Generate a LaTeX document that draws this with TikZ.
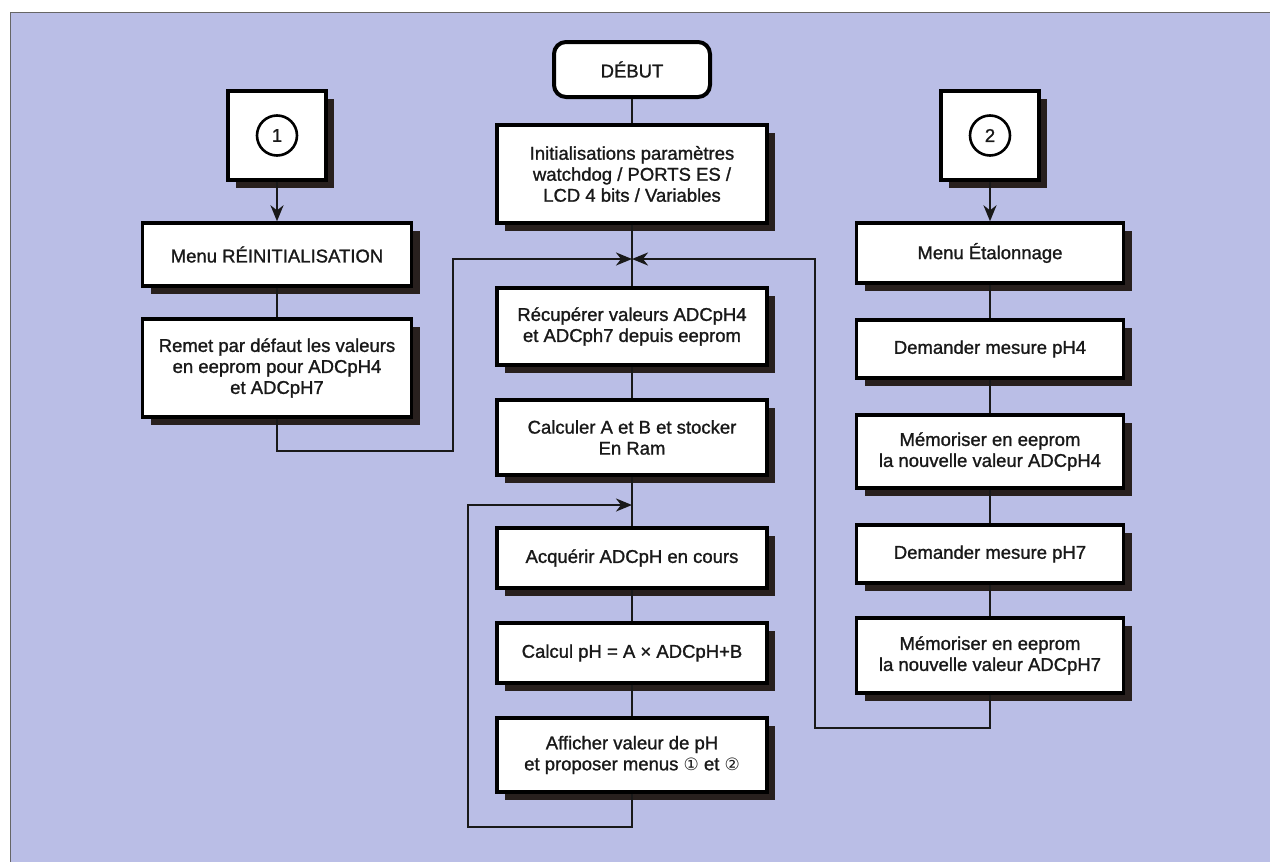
\documentclass[tikz,border=0pt]{standalone}
\usepackage{fontspec}
\setmainfont{Liberation Sans}[FakeBold=1.2]
\newfontfamily\dejavu{DejaVu Sans}
\usetikzlibrary{arrows.meta,shadows}
\definecolor{bgc}{RGB}{186,190,230}
\definecolor{shadowc}{RGB}{40,32,30}
\definecolor{txtc}{RGB}{25,25,25}
\begin{document}
\begin{tikzpicture}[x=1pt,y=-1pt,
  every node/.style={text=txtc},
  txt/.style={font=\fontsize{18.5}{21}\selectfont},
  box/.style={txt, draw=black, line width=3.4pt, fill=white, inner sep=0pt, align=center,
    general shadow={shadow xshift=8pt, shadow yshift=-8pt, fill=shadowc}},
  numc/.style={txt, draw=black, line width=2.6pt, circle, minimum size=40pt, inner sep=0pt},
  wire/.style={draw=black!90, line width=2.3pt},
  arr/.style={wire, -{Stealth[length=16pt,width=13pt,inset=5pt]}}]
\useasboundingbox (0,0) rectangle (1270,862);
\fill[white] (0,0) rectangle (1270,862);
\fill[bgc] (10,12) rectangle (1270,862);
\draw[black!60, line width=1pt] (10,862) -- (10,12) -- (1270,12);

% centre column
\node[txt, draw=black, line width=4pt, fill=white, rounded corners=12pt, minimum width=156pt, minimum height=55pt, inner sep=0pt] (debut) at (632,69.5) {DÉBUT};
\node[box, minimum width=270pt, minimum height=98pt] (init) at (632,174) {Initialisations paramètres\\watchdog / PORTS ES /\\LCD 4 bits / Variables};
\node[box, minimum width=270pt, minimum height=77pt] (recup) at (632,326.5) {Récupérer valeurs ADCpH4\\et ADCph7 depuis eeprom};
\node[box, minimum width=270pt, minimum height=75pt] (calc) at (632,437.5) {Calculer A et B et stocker\\En Ram};
\node[box, minimum width=270pt, minimum height=60pt] (acq) at (632,558) {Acquérir ADCpH en cours};
\node[box, minimum width=270pt, minimum height=60pt] (calcph) at (632,653) {Calcul pH = A × ADCpH+B};
\node[box, minimum width=270pt, minimum height=74pt] (aff) at (632,755) {Afficher valeur de pH\\et proposer menus {\dejavu\fontsize{17}{17}\selectfont ①} et {\dejavu\fontsize{17}{17}\selectfont ②}};

% left column
\node[box, minimum width=98pt, minimum height=89pt] (b1) at (277,135.5) {};
\node[numc] (c1) at (b1.center) {1};
\node[box, minimum width=269pt, minimum height=63pt] (reinit) at (277,254.5) {Menu RÉINITIALISATION};
\node[box, minimum width=269pt, minimum height=98pt] (remet) at (277,368) {Remet par défaut les valeurs\\en eeprom pour ADCpH4\\et ADCpH7};

% right column
\node[box, minimum width=98pt, minimum height=89pt] (b2) at (990,135.5) {};
\node[numc] (c2) at (b2.center) {2};
\node[box, minimum width=267pt, minimum height=60pt] (etal) at (990,253) {Menu Étalonnage};
\node[box, minimum width=267pt, minimum height=58pt] (dem4) at (990,349) {Demander mesure pH4};
\node[box, minimum width=267pt, minimum height=73pt] (mem4) at (990,451.5) {Mémoriser en eeprom\\la nouvelle valeur ADCpH4};
\node[box, minimum width=267pt, minimum height=58pt] (dem7) at (990,554) {Demander mesure pH7};
\node[box, minimum width=267pt, minimum height=75pt] (mem7) at (990,655.5) {Mémoriser en eeprom\\la nouvelle valeur ADCpH7};

% junction points
\coordinate (j1) at (632,259);
\coordinate (j2) at (632,505);

% connectors
\draw[wire] (debut) -- (init);
\draw[wire] (init) -- (recup);
\draw[wire] (recup) -- (calc);
\draw[wire] (calc) -- (acq);
\draw[wire] (acq) -- (calcph);
\draw[wire] (calcph) -- (aff);
\draw[arr] (b1) -- (reinit);
\draw[wire] (reinit) -- (remet);
\draw[arr] (b2) -- (etal);
\draw[wire] (etal) -- (dem4);
\draw[wire] (dem4) -- (mem4);
\draw[wire] (mem4) -- (dem7);
\draw[wire] (dem7) -- (mem7);
\draw[arr] (remet.south) |- (453,451) |- (j1);
\draw[arr] (mem7.south) |- (815,728) |- (j1);
\draw[arr] (aff.south) |- (468,827) |- (j2);
\end{tikzpicture}
\end{document}
